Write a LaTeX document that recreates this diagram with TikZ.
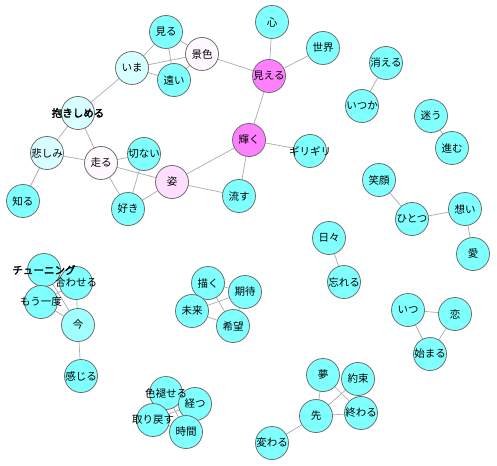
\documentclass[tikz,border=0pt]{standalone}
\usepackage{fontspec}
\newfontfamily\jp{Noto Sans CJK JP}
\newfontfamily\jpb{Noto Sans CJK JP}[FakeBold=2.5]
\usetikzlibrary{backgrounds}
\definecolor{cy}{RGB}{128,255,255}
\definecolor{lc}{RGB}{215,255,255}
\definecolor{lc2}{RGB}{160,255,255}
\definecolor{mg}{RGB}{255,128,255}
\definecolor{pk}{RGB}{255,222,255}
\definecolor{wp}{RGB}{255,248,255}
\definecolor{edgecol}{RGB}{170,170,170}
\definecolor{bordcol}{RGB}{105,105,105}
\begin{document}
\begin{tikzpicture}[x=1pt,y=-1pt,
  vert/.style={circle,draw=bordcol,line width=0.75pt,minimum size=33pt,inner sep=0pt},
  lbl/.style={font=\jp\fontsize{10.5}{12}\selectfont,text=black,inner sep=0pt},
  blbl/.style={font=\jpb\fontsize{10.5}{12}\selectfont,text=black,inner sep=0pt},
  link/.style={draw=edgecol,line width=0.7pt}]
\useasboundingbox (0,0) rectangle (497,465);
\foreach \n/\x/\y/\c in {
 miru/166/32/cy, keshiki/202/54/wp, ima/132/68/lc, tooi/174/80/cy,
 kokoro/272/22/cy, sekai/323/48/cy, mieru/269/76/mg, kagayaku/249/140/mg,
 girigiri/310/151/cy, dakishimeru/78/113/lc, kanashimi/47/153/lc,
 hashiru/101/163/wp, setsunai/144/154/cy, sugata/172/182/pk, nagasu/239/196/cy,
 suki/128/209/cy, shiru/23/201/cy, kieru/386/63/cy, itsuka/362/106/cy,
 mayou/431/116/cy, susumu/452/148/cy, egao/379/180/cy, hitotsu/412/219/cy,
 omoi/465/209/cy, ai/473/254/cy, hibi/329/238/cy, wasureru/344/282/cy,
 itsu/408/310/cy, koi/455/314/cy, hajimaru/430/354/cy, yume/323/375/cy,
 yakusoku/358/379/cy, saki/316/416/cy, owaru/361/413/cy, kawaru/272/443/cy,
 tuning/44/270/cy, awaseru/76/283/cy, moichido/41/302/cy, imanow/78/325/lc2,
 kanjiru/81/376/cy, egaku/208/283/cy, kitai/245/292/cy, mirai/192/311/cy,
 kibou/233/326/cy, iroaseru/166/393/cy, tatsu/195/404/cy, torimodosu/153/420/cy,
 jikan/186/432/cy}
 {\node[vert,fill=\c] (\n) at (\x,\y) {};}
\foreach \n/\t in {
 miru/見る, keshiki/景色, ima/いま, tooi/遠い, kokoro/心, sekai/世界, mieru/見える,
 kagayaku/輝く, girigiri/ギリギリ, kanashimi/悲しみ,
 hashiru/走る, setsunai/切ない, sugata/姿, nagasu/流す, suki/好き, shiru/知る,
 kieru/消える, itsuka/いつか, mayou/迷う, susumu/進む, egao/笑顔, hitotsu/ひとつ,
 omoi/想い, ai/愛, hibi/日々, wasureru/忘れる, itsu/いつ, koi/恋, hajimaru/始まる,
 yume/夢, yakusoku/約束, saki/先, owaru/終わる, kawaru/変わる,
 moichido/もう一度, imanow/今, kanjiru/感じる, egaku/描く,
 kitai/期待, mirai/未来, kibou/希望, tatsu/経つ, jikan/時間,
 awaseru/合わせる, iroaseru/色褪せる, torimodosu/取り戻す}
 {\node[lbl] at (\n) {\t};}
\foreach \n/\t in {dakishimeru/抱きしめる, tuning/チューニング}
 {\node[blbl] at (\n) {\t};}
\begin{scope}[on background layer]
\foreach \a/\b in {
 miru/ima, miru/keshiki, miru/tooi, ima/keshiki, ima/tooi, tooi/keshiki,
 keshiki/mieru, ima/dakishimeru, kokoro/mieru, sekai/mieru, mieru/kagayaku,
 kagayaku/girigiri, kagayaku/nagasu, kagayaku/sugata, dakishimeru/kanashimi,
 dakishimeru/hashiru, kanashimi/hashiru, kanashimi/shiru, hashiru/setsunai,
 hashiru/sugata, hashiru/suki, setsunai/suki, sugata/suki, sugata/nagasu,
 kieru/itsuka, mayou/susumu, egao/hitotsu, hitotsu/omoi, omoi/ai,
 hibi/wasureru, itsu/koi, itsu/hajimaru, koi/hajimaru,
 yume/saki, yume/owaru, yakusoku/saki, yakusoku/owaru, saki/owaru, saki/kawaru,
 tuning/awaseru, tuning/moichido, tuning/imanow, moichido/imanow, awaseru/imanow,
 moichido/awaseru, imanow/kanjiru,
 egaku/kitai, egaku/mirai, egaku/kibou, mirai/kitai, mirai/kibou, kitai/kibou,
 iroaseru/tatsu, iroaseru/torimodosu, iroaseru/jikan, tatsu/torimodosu,
 tatsu/jikan, torimodosu/jikan}
 {\draw[link] (\a.center) -- (\b.center);}
\end{scope}
\end{tikzpicture}
\end{document}
